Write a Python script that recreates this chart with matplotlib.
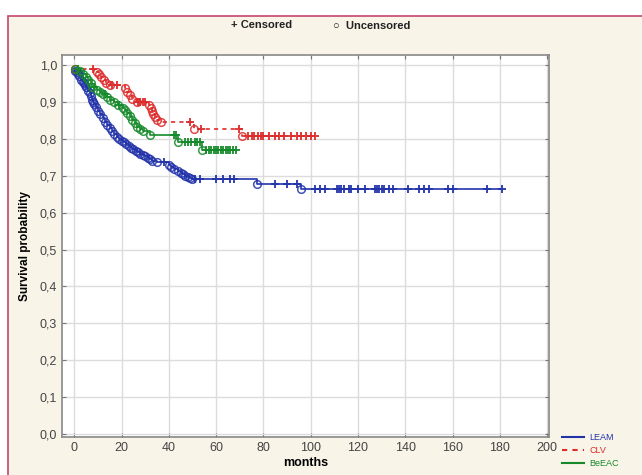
import numpy as np
import matplotlib
matplotlib.use("Agg")
import matplotlib.pyplot as plt
from matplotlib.patches import Rectangle
from matplotlib.lines import Line2D

plt.rcParams['font.family'] = ['Liberation Sans', 'DejaVu Sans']

# LEAM: event times (months) and survival after each event, censor times
leam_t = [0.5, 1, 1.5, 2, 3, 3.5, 4, 4.5, 5, 6, 6.5, 7, 7.5, 8, 8.5, 9, 10, 11, 12, 13,
          14, 15, 16, 17, 18, 19, 20, 21, 22, 23, 24, 25, 26, 27, 28, 29, 30, 31, 32, 33,
          35, 40, 41, 42, 44, 45, 46, 47, 48, 49, 50, 77.5, 96]
leam_s = [0.985, 0.98, 0.975, 0.97, 0.96, 0.955, 0.95, 0.945, 0.94, 0.93, 0.925, 0.915,
          0.905, 0.90, 0.893, 0.886, 0.876, 0.866, 0.856, 0.846, 0.838, 0.83, 0.82, 0.812,
          0.805, 0.80, 0.795, 0.79, 0.785, 0.78, 0.776, 0.772, 0.768, 0.764, 0.76, 0.756,
          0.752, 0.748, 0.744, 0.74, 0.736, 0.73, 0.724, 0.717, 0.712, 0.708, 0.704, 0.70,
          0.697, 0.694, 0.69, 0.678, 0.663]
leam_c = [38, 51, 53, 60, 63, 66, 67.5, 85, 90, 94, 102, 104, 106, 111, 112, 113, 114,
          116, 117, 120, 123, 127, 128, 129, 130, 131, 133, 135, 141, 146, 148, 150, 158,
          160, 174.5, 181]

# CLV
clv_t = [0.5, 9.5, 10.5, 11.5, 12.5, 13.5, 15, 21.5, 22.5, 23.5, 24.5, 26.5, 31.5, 32.5,
         33, 33.5, 34, 35, 36.5, 50.5, 71]
clv_s = [0.99, 0.982, 0.975, 0.968, 0.96, 0.952, 0.945, 0.937, 0.928, 0.918, 0.908, 0.90,
         0.892, 0.884, 0.876, 0.868, 0.86, 0.852, 0.845, 0.827, 0.808]
clv_c = [8, 16, 18, 27, 28, 29, 30, 49, 53.5, 69.5, 73.5, 75, 76, 77.7, 79, 80, 82.4, 85,
         86.6, 88.7, 91.7, 94, 96, 98, 100, 102]

# BeEAC
beeac_t = [0.5, 2.5, 3.8, 5, 6, 7, 7.6, 9.8, 11, 12.3, 14, 15.3, 17, 18.3, 20.4, 21.5,
           22.5, 23.5, 24.6, 25.5, 26.7, 28, 29, 32, 44, 54]
beeac_s = [0.99, 0.983, 0.975, 0.968, 0.96, 0.95, 0.94, 0.933, 0.927, 0.92, 0.913, 0.906,
           0.899, 0.892, 0.884, 0.877, 0.87, 0.861, 0.852, 0.843, 0.833, 0.826, 0.82, 0.81,
           0.792, 0.77]
beeac_c = [1.5, 8.5, 13, 19, 42, 43, 47, 48, 49.5, 51, 52, 53, 55.6, 57, 58, 59, 60, 61,
           62, 63, 64, 65, 66, 67, 68.5]

groups = ['LEAM', 'CLV', 'BeEAC']
colors = ['#2233aa', '#dd2a2a', '#158a2a']
styles = ['-', (0, (2.5, 2.5)), '-']

fig = plt.figure(figsize=(6.42, 4.75), dpi=100, facecolor='white')
fig.patches.append(Rectangle((8 / 642, -0.05), 1.1, 1 - 16 / 475 + 0.05,
                             transform=fig.transFigure, facecolor='#f8f4e8',
                             edgecolor='#c4466c', linewidth=1.2, zorder=-10))

ax = fig.add_axes([62 / 642, 1 - 437 / 475, (548.5 - 62) / 642, (437 - 55) / 475])
ax.set_facecolor('white')


def surv_at(t_ev, s_ev, times):
    t_ev = np.asarray(t_ev)
    s_ev = np.asarray(s_ev)
    idx = np.searchsorted(t_ev, times, side='right') - 1
    out = np.where(idx >= 0, s_ev[np.clip(idx, 0, None)], 1.0)
    return out


data = [(leam_t, leam_s, leam_c), (clv_t, clv_s, clv_c), (beeac_t, beeac_s, beeac_c)]
for (t, s, c), col, ls in zip(data, colors, styles):
    tt = [0] + list(t) + [max(c[-1], t[-1])]
    ss = [s[0]] + list(s) + [s[-1]]
    ax.plot(tt, ss, drawstyle='steps-post', color=col, linestyle=ls, lw=1.2, zorder=3)
    ax.plot(t, s, 'o', ms=5.5, mfc='none', mec=col, mew=1.1, alpha=0.85, zorder=4)
    ax.plot(c, surv_at(t, s, c), 'P', ms=6, color=col, mew=0, alpha=0.9, zorder=5)

ax.set_xlim(-5.2, 200.6)
ax.set_ylim(-0.008, 1.027)
ax.set_xticks(np.arange(0, 201, 20))
ax.set_yticks(np.arange(0, 1.01, 0.1))
ax.set_yticklabels([('%.1f' % v).replace('.', ',') for v in np.arange(0, 1.01, 0.1)])
ax.tick_params(direction='in', top=True, right=True, length=3, width=0.8,
               colors='#777777', labelcolor='#444444', labelsize=9)
ax.grid(True, color='#dcdcdc', lw=1.0)
ax.set_axisbelow(True)
for sp in ax.spines.values():
    sp.set_color('#888888')
    sp.set_linewidth(1.2)

ax.set_xlabel('months', fontsize=9, fontweight='bold', labelpad=2)
ax.set_ylabel('Survival probability', fontsize=8.5, fontweight='bold', labelpad=6)

fig.text(231 / 642, 1 - 25 / 475, '+ Censored', fontsize=8, fontweight='bold',
         color='#222222', va='center')
fig.text(333 / 642, 1 - 26 / 475, '\u25cb  Uncensored', fontsize=8, fontweight='bold',
         color='#222222', va='center')

handles = [Line2D([], [], color=col, linestyle=ls, lw=1.5) for col, ls in zip(colors, styles)]
leg = fig.legend(handles, groups, loc='upper left', bbox_to_anchor=(562 / 642, 1 - 433 / 475),
                 frameon=False, fontsize=6.5, handlelength=2.4, labelspacing=0.45,
                 handletextpad=0.6, borderaxespad=0, borderpad=0)
for txt, col in zip(leg.get_texts(), colors):
    txt.set_color(col)

fig.savefig('out.png', dpi=100, facecolor=fig.get_facecolor())
